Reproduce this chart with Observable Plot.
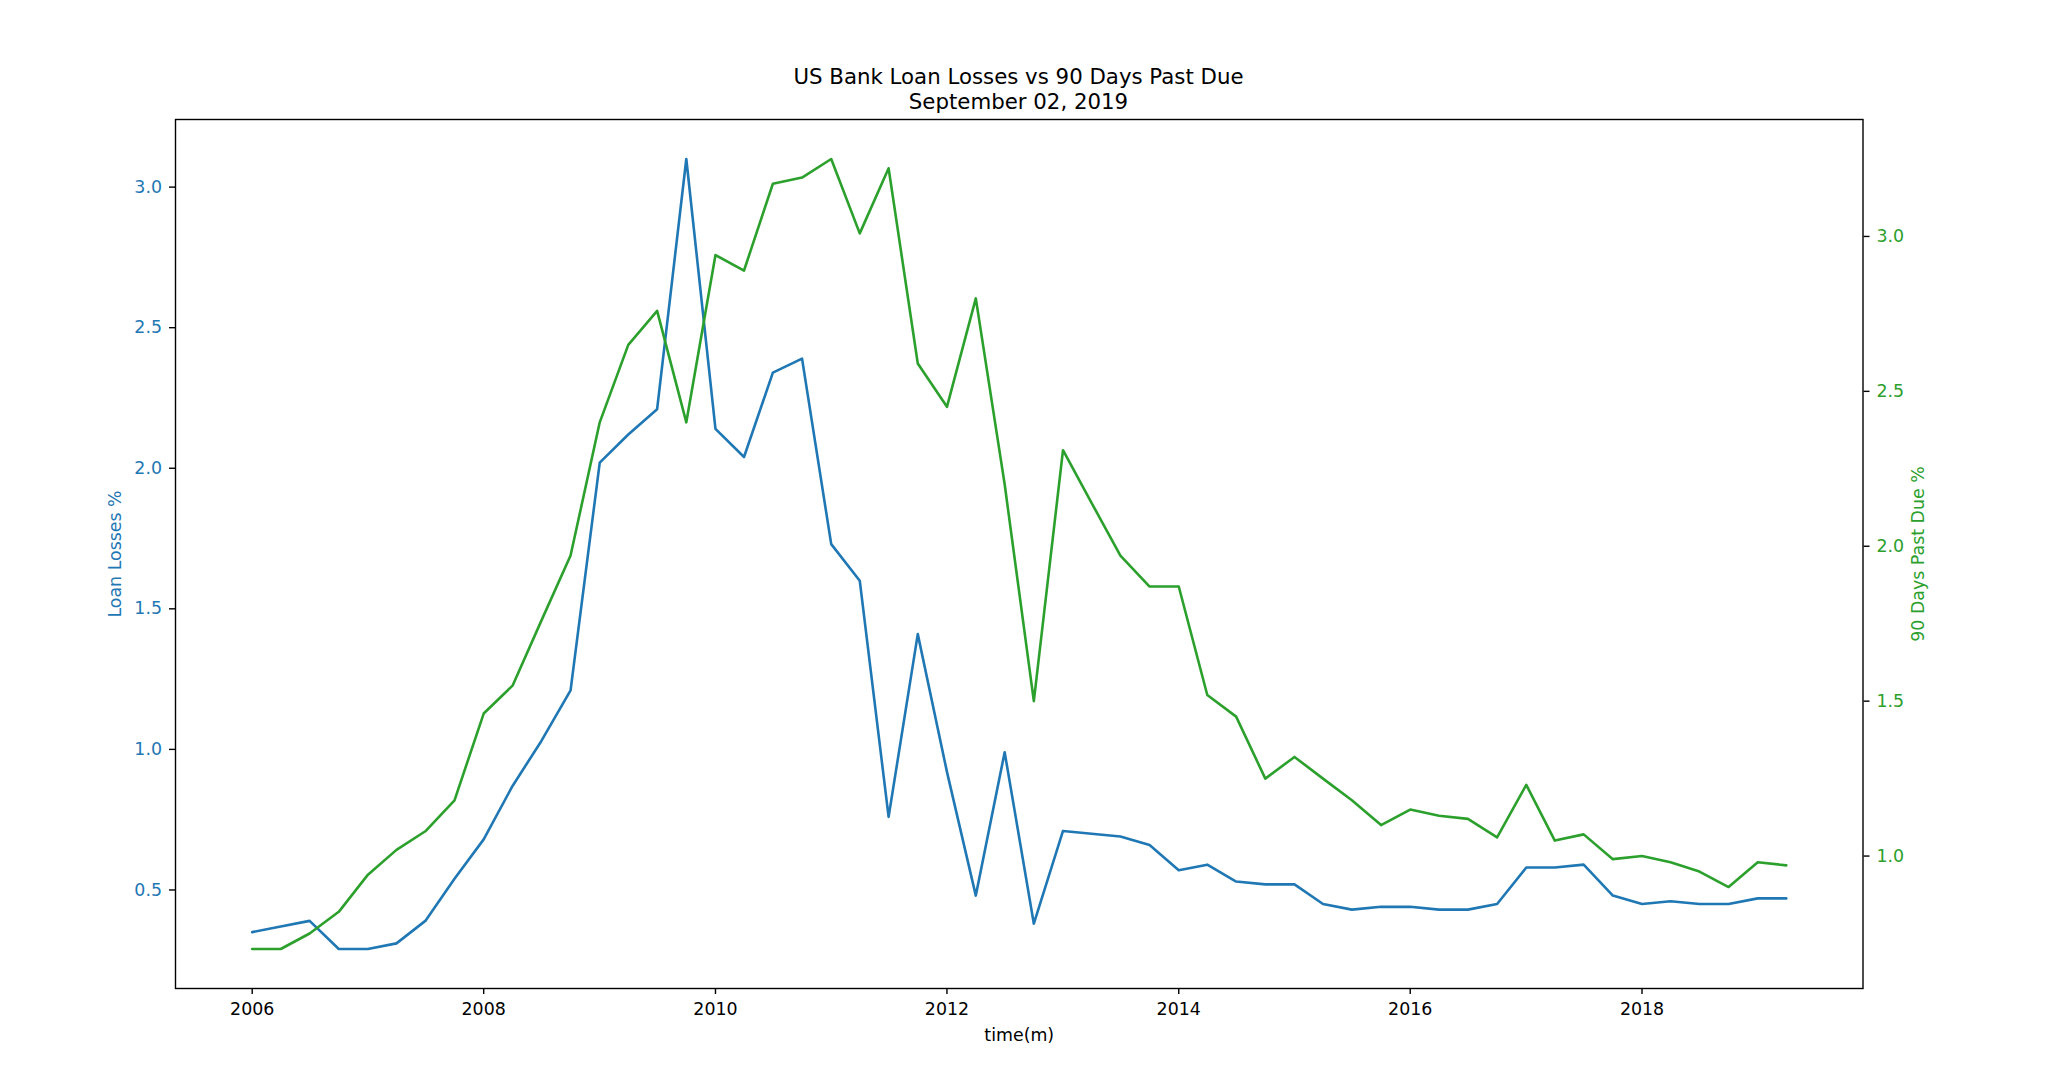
<!DOCTYPE html>
<html>
<head>
<meta charset="utf-8">
<script src="https://cdn.jsdelivr.net/npm/d3@7"></script>
<script src="https://cdn.jsdelivr.net/npm/@observablehq/plot@0.6"></script>
<style>
html, body { margin: 0; padding: 0; background: #fff; overflow: hidden; }
#title {
  height: 112px; box-sizing: border-box; padding-top: 65px; width: 2037px;
  text-align: center; font-family: "DejaVu Sans"; font-size: 21.3px; line-height: 24.6px; color: #000;
}
</style>
</head>
<body>
<div id="title"><div>US Bank Loan Losses vs 90 Days Past Due</div><div>September 02, 2019</div></div>
<div id="chart"></div>
<script>
// Quarterly observation dates
const quarters = [
  "2006-01-01","2006-04-01","2006-07-01","2006-10-01",
  "2007-01-01","2007-04-01","2007-07-01","2007-10-01",
  "2008-01-01","2008-04-01","2008-07-01","2008-10-01",
  "2009-01-01","2009-04-01","2009-07-01","2009-10-01",
  "2010-01-01","2010-04-01","2010-07-01","2010-10-01",
  "2011-01-01","2011-04-01","2011-07-01","2011-10-01",
  "2012-01-01","2012-04-01","2012-07-01","2012-10-01",
  "2013-01-01","2013-04-01","2013-07-01","2013-10-01",
  "2014-01-01","2014-04-01","2014-07-01","2014-10-01",
  "2015-01-01","2015-04-01","2015-07-01","2015-10-01",
  "2016-01-01","2016-04-01","2016-07-01","2016-10-01",
  "2017-01-01","2017-04-01","2017-07-01","2017-10-01",
  "2018-01-01","2018-04-01","2018-07-01","2018-10-01",
  "2019-01-01","2019-04-01"
];

// Loan Losses % (left axis)
const loanLosses = [
  0.35, 0.37, 0.39, 0.29,
  0.29, 0.31, 0.39, 0.54,
  0.68, 0.87, 1.03, 1.21,
  2.02, 2.12, 2.21, 3.10,
  2.14, 2.04, 2.34, 2.39,
  1.73, 1.60, 0.76, 1.41,
  0.92, 0.48, 0.99, 0.38,
  0.71, 0.70, 0.69, 0.66,
  0.57, 0.59, 0.53, 0.52,
  0.52, 0.45, 0.43, 0.44,
  0.44, 0.43, 0.43, 0.45,
  0.58, 0.58, 0.59, 0.48,
  0.45, 0.46, 0.45, 0.45,
  0.47, 0.47
];

// 90 Days Past Due % (right axis)
const pastDue90 = [
  0.70, 0.70, 0.75, 0.82,
  0.94, 1.02, 1.08, 1.18,
  1.46, 1.55, 1.76, 1.97,
  2.40, 2.65, 2.76, 2.40,
  2.94, 2.89, 3.17, 3.19,
  3.25, 3.01, 3.22, 2.59,
  2.45, 2.80, 2.20, 1.50,
  2.31, 2.14, 1.97, 1.87,
  1.87, 1.52, 1.45, 1.25,
  1.32, 1.25, 1.18, 1.10,
  1.15, 1.13, 1.12, 1.06,
  1.23, 1.05, 1.07, 0.99,
  1.00, 0.98, 0.95, 0.90,
  0.98, 0.97
];

const xTickYears = [2006, 2008, 2010, 2012, 2014, 2016, 2018];
const lossTicks = [0.5, 1.0, 1.5, 2.0, 2.5, 3.0];
const pastDueTicks = [1.0, 1.5, 2.0, 2.5, 3.0];

const lossLabel = "Loan Losses %";
const pastDueLabel = "90 Days Past Due %";
const xLabel = "time(m)";

const BLUE = "#1f77b4", GREEN = "#2ca02c";

// matplotlib-style 5% data margins
const pad = ([a, b]) => [a - (b - a) * 0.05, b + (b - a) * 0.05];
const rows = quarters.map((q, i) => ({date: new Date(q), loss: loanLosses[i], due: pastDue90[i]}));
const xExt = pad(d3.extent(rows, d => +d.date));
const xDom = [new Date(xExt[0]), new Date(xExt[1])];
const lDom = pad(d3.extent(loanLosses));
const rDom = pad(d3.extent(pastDue90));
const k = (lDom[1] - lDom[0]) / (rDom[1] - rDom[0]);
const toL = v => lDom[0] + (v - rDom[0]) * k;
const fromL = v => rDom[0] + (v - lDom[0]) / k;

const chart = Plot.plot({
  width: 2048,
  height: 962,
  marginTop: 7,
  marginBottom: 86,
  marginLeft: 175,
  marginRight: 185.5,
  style: {fontFamily: "DejaVu Sans", fontSize: "17.4px", background: "white", overflow: "visible"},
  x: {type: "utc", domain: xDom},
  y: {domain: lDom},
  marks: [
    Plot.line(rows, {x: "date", y: "loss", stroke: BLUE, strokeWidth: 2.6}),
    Plot.line(rows, {x: "date", y: d => toL(d.due), stroke: GREEN, strokeWidth: 2.6}),
    Plot.frame({stroke: "black", strokeWidth: 1.4}),
    Plot.axisX({
      ticks: xTickYears.map(y => new Date(Date.UTC(y, 0, 1))),
      tickFormat: d3.utcFormat("%Y"),
      tickSize: 6, tickPadding: 8, strokeWidth: 1.4, stroke: "black", fill: "black", label: null
    }),
    Plot.axisY({
      anchor: "left", ticks: lossTicks, tickFormat: d => d.toFixed(1),
      tickSize: 6, tickPadding: 7.5, strokeWidth: 1.4, stroke: "black", fill: BLUE, label: null
    }),
    Plot.axisY({
      anchor: "right", ticks: pastDueTicks.map(toL), tickFormat: d => fromL(d).toFixed(1),
      tickSize: 6, tickPadding: 7.5, strokeWidth: 1.4, stroke: "black", fill: GREEN, label: null
    }),
    Plot.text([lossLabel], {text: d => d, frameAnchor: "left", dx: -60, rotate: -90,
      textAnchor: "middle", lineAnchor: "middle", fill: BLUE}),
    Plot.text([pastDueLabel], {text: d => d, frameAnchor: "right", dx: 55.5, rotate: -90,
      textAnchor: "middle", lineAnchor: "middle", fill: GREEN}),
    Plot.text([xLabel], {text: d => d, frameAnchor: "bottom", dy: 46.5,
      textAnchor: "middle", lineAnchor: "middle", fill: "black"})
  ]
});
document.getElementById("chart").appendChild(chart);
</script>
</body>
</html>
